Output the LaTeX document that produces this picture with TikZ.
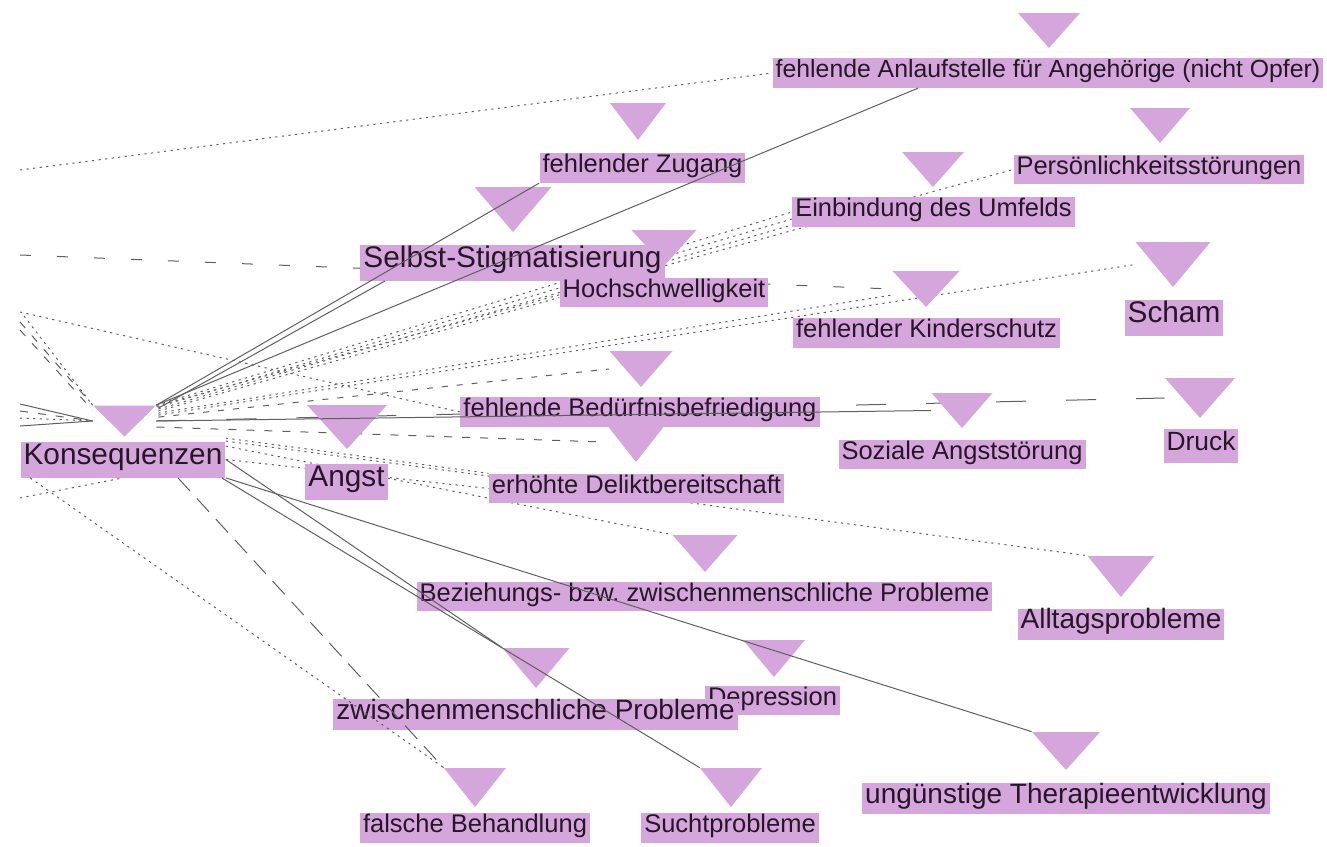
\documentclass[tikz,border=0pt]{standalone}
\usepackage{fontspec}
\setmainfont{Liberation Sans}
\usetikzlibrary{backgrounds}
\frenchspacing
\definecolor{pinkc}{RGB}{213,166,219}
\definecolor{txtc}{RGB}{38,22,40}
\definecolor{linec}{RGB}{95,95,95}
\tikzset{
  lab/.style={fill=pinkc, text=txtc, inner xsep=1.5pt, inner ysep=0pt, text height=0.7em, text depth=0.22em},
  labS/.style={lab, font=\fontsize{12.75pt}{14pt}\selectfont, minimum height=14.75pt},
  labA/.style={lab, font=\fontsize{12.4pt}{14pt}\selectfont, minimum height=14.75pt},
  labD/.style={lab, font=\fontsize{13.2pt}{15pt}\selectfont, minimum height=17pt},
  labM/.style={lab, font=\fontsize{14pt}{16pt}\selectfont, minimum height=15.5pt},
  labL/.style={lab, font=\fontsize{14.9pt}{17pt}\selectfont, minimum height=18pt},
  tri/.style 2 args={inner sep=0pt, minimum width=#1, minimum height=#2,
    path picture={\fill[pinkc] (path picture bounding box.north west) -- (path picture bounding box.north east) -- (path picture bounding box.south) -- cycle;}},
  cSolid/.style={draw=linec, line width=0.5pt},
  cDot/.style={cSolid, dash pattern=on 1.1pt off 2.2pt},
  cDash/.style={cSolid, dash pattern=on 3pt off 4.5pt},
  cMid/.style={cSolid, dash pattern=on 4pt off 5pt},
  cLong/.style={cSolid, dash pattern=on 5.5pt off 13pt},
  cLongB/.style={cSolid, dash pattern=on 9pt off 5pt},
  cWide/.style={cSolid, dash pattern=on 15pt off 20pt},
}
\begin{document}
\begin{tikzpicture}[x=0.5pt,y=-0.5pt]
\useasboundingbox (0,0) rectangle (1327,846);

% ---------- triangles and labels ----------
\node[tri={31pt}{17.5pt}] (anl-t) at (1049,30.5) {};
\node[labA] (anl) at (1048,73) {fehlende Anlaufstelle für Angehörige (nicht Opfer)};

\node[tri={28pt}{18.5pt}] (zug-t) at (638,121.5) {};
\node[labS] (zug) at (642.5,168) {fehlender Zugang};

\node[tri={30pt}{17.5pt}] (per-t) at (1160,125.5) {};
\node[labS] (per) at (1159,169.5) {Persönlichkeitsstörungen};

\node[tri={31pt}{17.5pt}] (ein-t) at (933,169.5) {};
\node[labS] (ein) at (933.5,212) {Einbindung des Umfelds};

\node[tri={38.5pt}{22.5pt}] (sst-t) at (513,209.5) {};
\node[tri={32.5pt}{18pt}] (hoc-t) at (664,248) {};
\node[labL] (sst) at (512.5,262.5) {Selbst-Stigmatisierung};
\node[labS] (hoc) at (664,292.5) {Hochschwelligkeit};

\node[tri={33.5pt}{18pt}] (kin-t) at (926,289) {};
\node[labS] (kin) at (926.5,333) {fehlender Kinderschutz};

\node[tri={37.5pt}{22.5pt}] (sch-t) at (1173,264.5) {};
\node[labL] (sch) at (1174,318) {Scham};

\node[tri={35pt}{20pt}] (dru-t) at (1200,398) {};
\node[labD] (dru) at (1201,445.5) {Druck};

\node[tri={30.5pt}{17.5pt}] (soz-t) at (962,410.5) {};
\node[labS] (soz) at (962,454.5) {Soziale Angststörung};

\node[tri={31.5pt}{20pt}] (del-t) at (636,442) {};
\node[tri={31.5pt}{18pt}] (bed-t) at (641,369) {};
\node[labS] (bed) at (640,412) {fehlende Bedürfnisbefriedigung};
\node[labS] (del) at (636.5,488.5) {erhöhte Deliktbereitschaft};

\node[tri={40pt}{22pt}] (ang-t) at (347,427) {};
\node[labL] (ang) at (346.5,481.5) {Angst};

\node[tri={31.5pt}{15.5pt}] (kon-t) at (124.5,421) {};
\node[labL] (kon) at (123,459.5) {Konsequenzen};

\node[tri={32.5pt}{18.5pt}] (bez-t) at (705,553.5) {};
\node[labS] (bez) at (704.5,596.5) {Beziehungs- bzw. zwischenmenschliche Probleme};

\node[tri={33.5pt}{20.5pt}] (all-t) at (1121,576.5) {};
\node[labM] (all) at (1121,624) {Alltagsprobleme};

\node[tri={31pt}{18.5pt}] (dep-t) at (774,658.5) {};
\node[labS] (dep) at (772.5,700.5) {Depression};
\node[tri={33.5pt}{20pt}] (zwi-t) at (536,668) {};
\node[labM] (zwi) at (535.5,714.5) {zwischenmenschliche Probleme};

\node[tri={34pt}{19pt}] (ung-t) at (1066,751) {};
\node[labM] (ung) at (1066,798.5) {ungünstige Therapieentwicklung};

\node[tri={31pt}{19.5pt}] (fal-t) at (475,787.5) {};
\node[labS] (fal) at (475,828) {falsche Behandlung};

\node[tri={31pt}{19.5pt}] (suc-t) at (731,787.5) {};
\node[labS] (suc) at (730,828) {Suchtprobleme};

% free ends at the left margin
\coordinate (e1) at (20,170);
\coordinate (e2) at (20,255);
\coordinate (e3) at (20,312);
\coordinate (e4) at (20,404);
\coordinate (e5) at (20,411);
\coordinate (e6) at (20,418);
\coordinate (e7) at (20,426);
\coordinate (e8) at (20,322);
\coordinate (e9) at (24,316);
\coordinate (e10) at (20,330);
\coordinate (e11) at (20,498);

% ---------- connectors beneath the labels ----------
\begin{pgfonlayer}{background}
\draw[cDot] (e1) -- (anl.west);
\draw[cLong] (e2) -- (kin-t.west);
\draw[cDot] (e3) -- (bed.west);
\draw[cDot] (kon-t.north east) -- (ein.west);
\draw[cDot] ([shift={(1,2)}]kon-t.north east) -- ([shift={(0,7)}]ein.west);
\draw[cDot] ([shift={(2,4)}]kon-t.north east) -- ([shift={(0,13)}]ein.west);
\draw[cDot] ([shift={(0,1)}]kon-t.north east) -- (per.west);
\draw[cDot] ([shift={(2,6)}]kon-t.north east) -- ([shift={(0,5)}]hoc.west);
\draw[cDot] ([shift={(2,8)}]kon-t.north east) -- ([shift={(0,6)}]kin-t.west);
\draw[cDot] ([shift={(2,10)}]kon-t.north east) -- (sch-t.west);
\draw[cDash] ([shift={(2,12)}]kon-t.north east) -- (bed-t.west);
\draw[cWide] (kon-t.east) -- (dru-t.west);
\draw[cMid] ([shift={(0,6)}]kon-t.east) -- (del-t.west);
\draw[cDot] (kon.north east) -- (all-t.north west);
\draw[cDot] (kon.east) -- (del.west);
\draw[cDot] ([shift={(0,5)}]kon.north east) -- (bez-t.north west);
\draw[cDot] ([shift={(0,-3)}]kon.north east) -- (del.north west);
\draw[cSolid] (e4) -- (kon-t.west);
\draw[cMid] (e5) -- (kon-t.west);
\draw[cDot] (e6) -- (kon-t.west);
\draw[cSolid] (e7) -- (kon-t.west);
\draw[cMid] (e8) -- (kon-t.north west);
\draw[cDot] (e9) -- (kon-t.north west);
\draw[cMid] (e10) -- ([shift={(0,5)}]kon-t.north west);
\draw[cDot] (e11) -- (kon.south);
\end{pgfonlayer}

% ---------- connectors over the labels ----------
\draw[cSolid] (kon-t.north east) -- ([shift={(-130,0)}]anl.south);
\draw[cSolid] (kon-t.north east) -- (zug.south west);
\draw[cSolid] ([shift={(2,3)}]kon-t.north east) -- ([shift={(25,0)}]sst.south west);
\draw[cSolid] (kon-t.east) -- (soz-t.west);
\draw[cSolid] (kon.south east) -- (ung-t.north west);
\draw[cSolid] ([shift={(-4,0)}]kon.south east) -- (suc-t.north west);
\draw[cSolid] (kon.east) -- (zwi-t.north west);
\draw[cLongB] ([shift={(55,0)}]kon.south) -- (fal-t.north west);
\draw[cDot] ([shift={(10,0)}]kon.south west) -- (fal-t.north west);
\end{tikzpicture}
\end{document}
